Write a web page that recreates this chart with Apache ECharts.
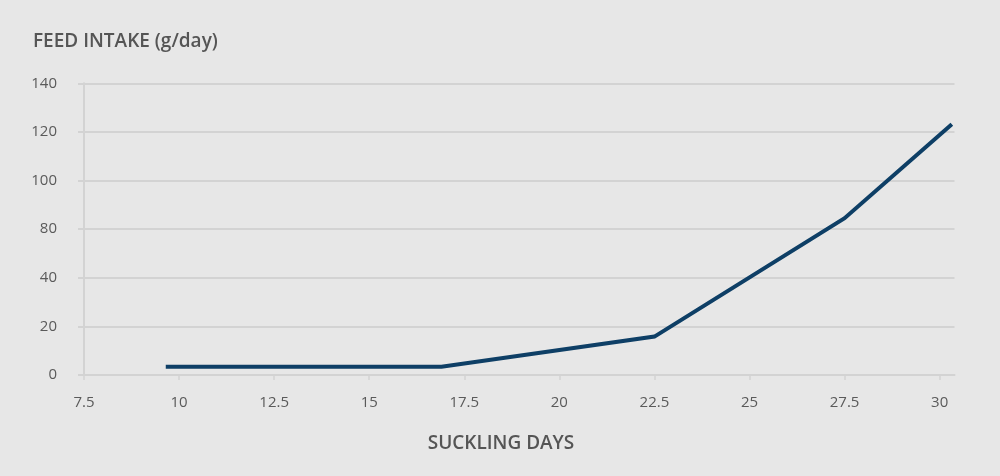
<!DOCTYPE html>
<html>
<head>
<meta charset="utf-8">
<script src="https://cdn.jsdelivr.net/npm/echarts@6/dist/echarts.min.js"></script>
<style>
html,body{margin:0;padding:0;background:#e7e7e7;}
#c{width:1000px;height:476px;}
</style>
</head>
<body>
<div id="c"></div>
<script>
// Data (y values expressed in the axis's evenly spaced grid units)
const sucklingDays = [9.65, 16.9, 22.5, 27.5, 30.32];
const feedIntake = [3.4, 3.4, 15.8, 64.5, 103.2];
// Tick labels as printed on the reference (evenly spaced gridlines)
const yTickLabels = ['0', '20', '40', '80', '100', '120', '140'];
const xTickValues = [7.5, 10, 12.5, 15, 17.5, 20, 22.5, 25, 27.5, 30];
const titleText = 'FEED INTAKE (g/day)';
const xAxisTitle = 'SUCKLING DAYS';

const chart = echarts.init(document.getElementById('c'), null, {renderer: 'canvas'});
const gridColor = '#d3d3d3';
const textColor = '#5a5a5a';
const fontFam = '"Open Sans", "Noto Sans", sans-serif';

chart.setOption({
  backgroundColor: '#e7e7e7',
  animation: false,
  title: [
    {text: titleText, left: 28, top: 27,
     textStyle: {fontFamily: fontFam, fontSize: 19, fontWeight: 600, color: '#555555'}},
    {text: xAxisTitle, left: 496, top: 429, textAlign: 'center',
     textStyle: {fontFamily: fontFam, fontSize: 19, fontWeight: 600, color: '#555555'}}
  ],
  grid: {left: 84, right: 45.5, top: 83.3, bottom: 101, containLabel: false},
  xAxis: {
    type: 'value', min: 7.5, max: 30.39, interval: 2.5,
    axisLine: {show: true, lineStyle: {color: gridColor, width: 2}},
    axisTick: {show: true, length: 5, customValues: xTickValues, lineStyle: {color: gridColor, width: 1.5}},
    axisLabel: {customValues: xTickValues, margin: 20, color: textColor, fontSize: 15, fontFamily: fontFam,
      formatter: v => String(v)},
    splitLine: {show: false}
  },
  yAxis: {
    type: 'value', min: 0, max: 120, interval: 20,
    axisLine: {show: true, lineStyle: {color: gridColor, width: 2}},
    axisTick: {show: true, inside: false, length: 6, lineStyle: {color: gridColor, width: 2}},
    axisLabel: {margin: 27, color: textColor, fontSize: 15, fontFamily: fontFam,
      formatter: v => yTickLabels[Math.round(v / 20)]},
    splitLine: {show: true, lineStyle: {color: gridColor, width: 2}}
  },
  series: [{
    type: 'line',
    data: sucklingDays.map((d, i) => [d, feedIntake[i]]),
    showSymbol: false,
    lineStyle: {color: '#0e3f66', width: 4, join: 'miter'},
    itemStyle: {color: '#0e3f66'}
  }]
});
</script>
</body>
</html>
